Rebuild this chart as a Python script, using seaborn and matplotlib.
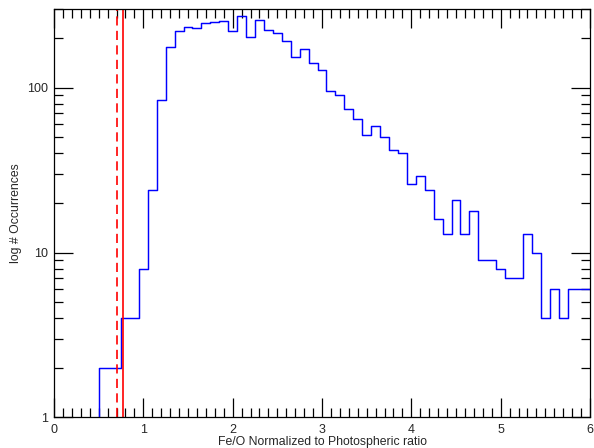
import numpy as np
import pandas as pd
import matplotlib
matplotlib.use("Agg")
import matplotlib.pyplot as plt
from matplotlib.ticker import MultipleLocator, LogLocator, NullFormatter, FuncFormatter
import seaborn as sns

# Fe/O ratio bins (centres, step 0.1) and number of occurrences per bin
fe_o_centres = np.round(np.arange(0.5, 6.0001, 0.1), 2)
occurrences = [
    2, 2, 2, 4, 4, 8, 24, 85, 177, 220,
    234, 232, 246, 250, 256, 223, 275, 205, 257, 225,
    214, 193, 153, 172, 141, 128, 96, 91, 74, 65,
    52, 59, 50, 42, 40, 26, 29, 24, 16, 13,
    21, 13, 18, 9, 9, 8, 7, 7, 13, 10,
    4, 6, 4, 6, 6, 6,
]

# reference ratios marked by vertical lines
ratio_dashed = 0.70
ratio_solid = 0.77

x_ticks = [0, 1, 2, 3, 4, 5, 6]
y_ticks = [1, 10, 100]

df = pd.DataFrame({"ratio": fe_o_centres, "count": occurrences})

# bin edges half-way between centres, clipped to the first and last centre
edges = np.concatenate([[fe_o_centres[0]],
                        (fe_o_centres[:-1] + fe_o_centres[1:]) / 2,
                        [fe_o_centres[-1]]]).tolist()

sns.set_style("ticks")
plt.rcParams["font.family"] = ["Liberation Sans", "DejaVu Sans"]

fig = plt.figure(figsize=(5.94, 4.48), dpi=100)
ax = fig.add_axes([54 / 594, 1 - 417.3 / 448, (590 - 54) / 594, (417.3 - 9.3) / 448])

sns.histplot(data=df, x="ratio", weights="count", bins=edges,
             element="step", fill=False, color="#0000ff", linewidth=1.05, ax=ax)
# rising edge of the first bin from the axis floor
ax.vlines(fe_o_centres[0], 1, occurrences[0], color="#0000ff", linewidth=1.05)

ax.axvline(ratio_dashed, color="#ff0000", linewidth=1.2, linestyle=(0, (5.5, 3.2)))
ax.axvline(ratio_solid, color="#ff0000", linewidth=1.2)

ax.set_yscale("log")
ax.set_xlim(0, 6)
ax.set_ylim(1, 300)

ax.xaxis.set_major_locator(MultipleLocator(1))
ax.xaxis.set_minor_locator(MultipleLocator(0.1))
ax.set_xticks(x_ticks)
ax.set_xticklabels([str(t) for t in x_ticks])
ax.yaxis.set_major_locator(LogLocator(base=10))
ax.yaxis.set_minor_locator(LogLocator(base=10, subs=np.arange(2, 10)))
ax.yaxis.set_minor_formatter(NullFormatter())
ax.set_yticks(y_ticks)
ax.yaxis.set_major_formatter(FuncFormatter(lambda v, p: f"{int(round(v))}"))

for side in ["left", "right", "top", "bottom"]:
    ax.spines[side].set_visible(True)
    ax.spines[side].set_color("black")
    ax.spines[side].set_linewidth(0.9)

ax.tick_params(which="both", direction="in", top=True, right=True,
               color="black", width=0.9)
ax.tick_params(which="major", length=13.5)
ax.tick_params(which="minor", length=6.5)
ax.tick_params(axis="x", which="major", labelsize=9, pad=5.0)
ax.tick_params(axis="y", which="major", labelsize=9, pad=4.5)

ax.set_xlabel("Fe/O Normalized to Photospheric ratio", fontsize=8.8, labelpad=0.0)
ax.set_ylabel("log # Occurrences", fontsize=8.8)
ax.yaxis.set_label_coords((22 - 54) / 536, 0.5)

fig.savefig("out.png", dpi=100)
